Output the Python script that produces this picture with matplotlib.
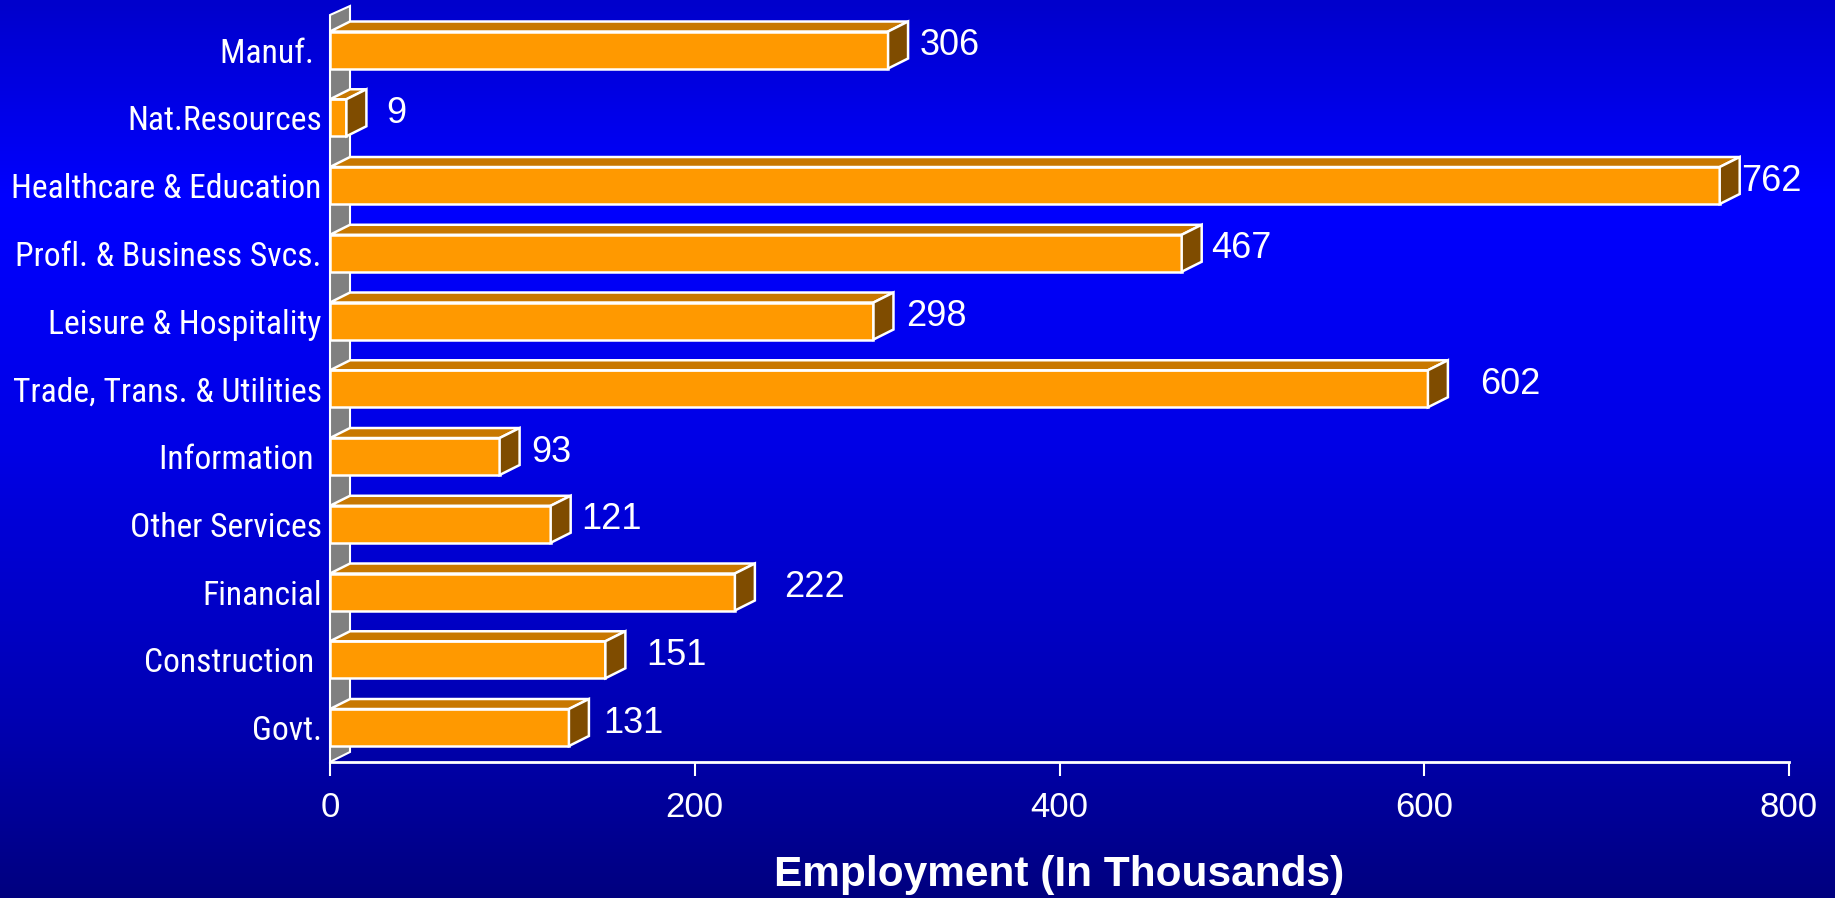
import numpy as np
import matplotlib.pyplot as plt
from matplotlib import font_manager as fm
from matplotlib.patches import Polygon, Rectangle
from matplotlib.colors import LinearSegmentedColormap

# data (top to bottom as in the chart)
categories = ['Manuf. ', 'Nat.Resources', 'Healthcare & Education', 'Profl. & Business Svcs.',
              'Leisure & Hospitality', 'Trade, Trans. & Utilities', 'Information ', 'Other Services',
              'Financial', 'Construction ', 'Govt.']
employment = [306, 9, 762, 467, 298, 602, 93, 121, 222, 151, 131]
x_ticks = [0, 200, 400, 600, 800]
# extra space (px) between bar end and value label, like the original
label_gap = [12, 20, 1, 9, 13, 32, 12, 11, 29, 21, 14]

# the category labels are in a narrow face; use one if it is there
narrow = None
wanted = ['Liberation Sans Narrow', 'Arial Narrow', 'Roboto Condensed', 'Noto Sans Condensed',
          'Open Sans Condensed']
for name in wanted:
    for f in fm.fontManager.ttflist:
        if f.name == name and f.style == 'normal' and f.weight in (400, 'normal', 'regular'):
            narrow = fm.FontProperties(fname=f.fname)
            break
    if narrow is not None:
        break
if narrow is None:
    for f in fm.fontManager.ttflist:
        if f.name == 'Noto Sans' and f.stretch == 'condensed' and f.style == 'normal' \
                and f.weight in (400, 'normal', 'regular'):
            narrow = fm.FontProperties(fname=f.fname)
            break
if narrow is None:
    narrow = fm.FontProperties(family='Liberation Sans')

W, H = 1835, 898
fig = plt.figure(figsize=(W / 100, H / 100), dpi=100)

# blue gradient background
bg = fig.add_axes([0, 0, 1, 1], zorder=-10)
stops = [(0.0, 0.80), (0.22, 1.0), (0.5, 0.9), (0.8, 0.70), (1.0, 0.50)]
cmap = LinearSegmentedColormap.from_list('bg', [(p, (0, 0, b)) for p, b in stops])
bg.imshow(np.linspace(0, 1, 256).reshape(-1, 1), aspect='auto', cmap=cmap)
bg.set_axis_off()

# plot area in pixels
x0, x1 = 330, 1789
ybot, ytop = 762, 4
px_y = 67.75
ax = fig.add_axes([x0 / W, 1 - ybot / H, (x1 - x0) / W, (ybot - ytop) / H])
ax.patch.set_visible(False)
ylo = -0.509
ax.set_xlim(0, 800)
ax.set_ylim(ylo, ylo + (ybot - ytop) / px_y)

dx = 20 * 800 / (x1 - x0)   # 3d depth
dy = 10 / px_y
h = 37 / px_y

# grey wall
wall = Polygon([(0, ylo), (dx, ylo + dy), (dx, ylo + (ybot - 6) / px_y), (0, ylo + (ybot - 15) / px_y)],
               closed=True, fc='#808080', ec='white', lw=1.5, clip_on=False, zorder=1)
ax.add_patch(wall)

n = len(categories)
ypos = [n - 1 - i for i in range(n)]
for y, v, gap in zip(ypos, employment, label_gap):
    lo, hi = y - h / 2, y + h / 2
    ax.add_patch(Rectangle((0, lo), v, h, fc='#FF9900', ec='white', lw=1.8, zorder=3))
    ax.add_patch(Polygon([(0, hi), (v, hi), (v + dx, hi + dy), (dx, hi + dy)],
                         fc='#C87800', ec='white', lw=1.8, zorder=3, clip_on=False))
    ax.add_patch(Polygon([(v, lo), (v, hi), (v + dx, hi + dy), (v + dx, lo + dy)],
                         fc='#7F4C00', ec='white', lw=1.8, zorder=3))
    ax.annotate(str(v), (v + dx, y), xytext=(gap * 0.72, -5 * 0.72), textcoords='offset points',
                ha='left', va='baseline', fontsize=26, color='white', family='Liberation Sans')

ax.set_xticks(x_ticks)
ax.set_xticklabels([str(t) for t in x_ticks], family='Liberation Sans')
ax.set_yticks(ypos)
ylabels = ax.set_yticklabels(categories)

for s in ['top', 'right', 'left']:
    ax.spines[s].set_visible(False)
ax.spines['bottom'].set_color('white')
ax.spines['bottom'].set_linewidth(2)
ax.tick_params(axis='x', colors='white', length=10, width=1.5, labelsize=25, pad=11)
ax.tick_params(axis='y', length=0, labelcolor='white', pad=6)

# size the category labels so the longest one is about as wide as in the original
renderer = fig.canvas.get_renderer()
probe = fig.text(0, 0, 'Healthcare & Education', fontproperties=narrow, fontsize=24)
wid = probe.get_window_extent(renderer).width
probe.remove()
size = min(25, 24 * 310 / wid)
for t in ylabels:
    t.set_fontproperties(narrow)
    t.set_fontsize(size)

fig.text(1059 / W, 1 - 875 / H, 'Employment (In Thousands)', ha='center', va='center',
         fontsize=30.5, fontweight='bold', color='white', family='Liberation Sans')

fig.savefig('out.png', dpi=100)
